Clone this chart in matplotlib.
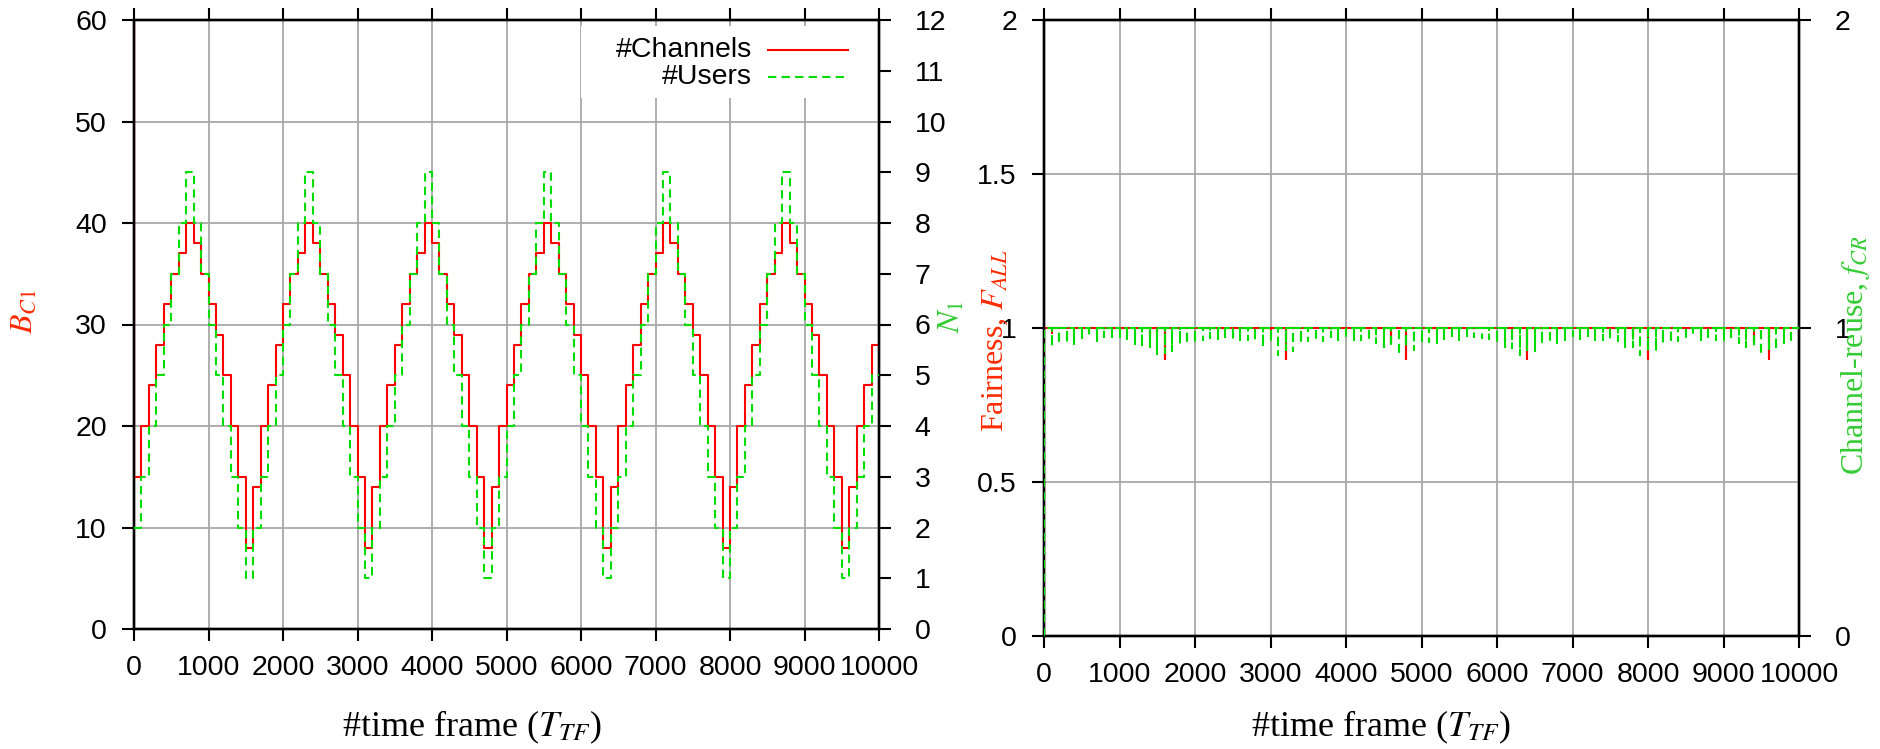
import matplotlib
matplotlib.use("Agg")
import matplotlib.pyplot as plt
import numpy as np
from matplotlib.patches import Rectangle

plt.rcParams['font.family'] = ['Liberation Sans', 'DejaVu Sans']
plt.rcParams['mathtext.fontset'] = 'stix'

# step edges of the load pattern (one step = 100 time frames)
step_edges = list(range(0, 10001, 100))

# allocated channels B_C1, one value per step
channels = [15, 20, 24, 28, 32, 35, 37, 40, 38, 35, 32, 29, 25, 20, 15, 8,
            14, 20, 24, 28, 32, 35, 37, 40, 38, 35, 32, 29, 25, 20, 15, 8,
            14, 20, 24, 28, 32, 35, 37, 40, 38, 35, 32, 29, 25, 20, 15, 8,
            14, 20, 24, 28, 32, 35, 37, 40, 38, 35, 32, 29, 25, 20, 15, 8,
            14, 20, 24, 28, 32, 35, 37, 40, 38, 35, 32, 29, 25, 20, 15, 8,
            14, 20, 24, 28, 32, 35, 37, 40, 38, 35, 32, 29, 25, 20, 15, 8,
            14, 20, 24, 28]
channels_t0 = [0, 64]

# active users N_1, one value per step
users = [2, 3, 4, 5, 6, 7, 8, 9, 8, 7, 6, 5, 4, 3, 2, 1,
         2, 3, 4, 5, 6, 7, 8, 9, 8, 7, 6, 5, 4, 3, 2, 1,
         2, 3, 4, 5, 6, 7, 8, 9, 8, 7, 6, 5, 4, 3, 2, 1,
         2, 3, 4, 5, 6, 7, 8, 9, 8, 7, 6, 5, 4, 3, 2, 1,
         2, 3, 4, 5, 6, 7, 8, 9, 8, 7, 6, 5, 4, 3, 2, 1,
         2, 3, 4, 5, 6, 7, 8, 9, 8, 7, 6, 5, 4, 3, 2, 1,
         2, 3, 4, 5]

# fairness / channel-reuse: value 1 everywhere except a one-frame dip at each step change
dip_frames = list(range(100, 10000, 100))
fairness_dips = [0.985, 1, 1, 1, 1, 1, 1, 1, 1, 1, 1, 1, 1, 0.97, 0.985, 0.90,
                 1, 1, 1, 1, 1, 1, 1, 1, 1, 1, 1, 1, 1, 0.985, 1, 0.90,
                 1, 1, 1, 1, 1, 1, 1, 1, 1, 1, 1, 1, 1, 0.951, 1, 0.90,
                 1, 1, 1, 1, 1, 1, 1, 1, 1, 1, 1, 1, 1, 0.985, 1, 0.90,
                 1, 1, 1, 1, 1, 1, 1, 1, 1, 1, 1, 1, 1, 0.97, 1, 0.90,
                 1, 1, 1, 1, 1, 1, 1, 1, 1, 1, 1, 1, 1, 0.951, 1, 0.90,
                 1, 1, 1]
reuse_dips = [0.937, 0.948, 0.951, 0.948, 0.968, 0.973, 0.959, 0.971, 0.971, 0.971, 0.965, 0.948, 0.937, 0.937, 0.913, 0.919,
              0.924, 0.948, 0.948, 0.951, 0.962, 0.968, 0.964, 0.971, 0.962, 0.960, 0.960, 0.957, 0.938, 0.954, 0.911, 0.927,
              0.926, 0.951, 0.959, 0.959, 0.959, 0.971, 0.962, 0.964, 0.962, 0.962, 0.959, 0.951, 0.938, 0.938, 0.913, 0.938,
              0.927, 0.951, 0.953, 0.951, 0.965, 0.973, 0.962, 0.973, 0.970, 0.968, 0.965, 0.951, 0.938, 0.935, 0.911, 0.927,
              0.924, 0.949, 0.951, 0.951, 0.962, 0.973, 0.964, 0.973, 0.962, 0.960, 0.960, 0.957, 0.938, 0.938, 0.911, 0.926,
              0.926, 0.951, 0.951, 0.957, 0.960, 0.982, 0.960, 0.960, 0.962, 0.960, 0.960, 0.951, 0.938, 0.938, 0.913, 0.927,
              0.927, 0.951, 0.951]

RED = '#ff0000'
GREEN = '#00dd00'
LBL_RED = '#ff2a00'
LBL_GREEN = '#33cc33'
GRID = '#a8a8a8'
TICK_FS = 20.5


def spike_line(frames, dips, start=0.0):
    xs, ys = [0, 0], [start, 1.0]
    for f, d in zip(frames, dips):
        xs += [f, f, f]
        ys += [1.0, d, 1.0]
    xs.append(10000)
    ys.append(1.0)
    return xs, ys


def style_axes(ax, ax_r):
    for a in (ax, ax_r):
        for s in a.spines.values():
            s.set_linewidth(1.7)
            s.set_color('black')
    ax.tick_params(axis='x', which='both', direction='out', top=True, length=8.5, width=1.5,
                   labelsize=TICK_FS, pad=10)
    ax.tick_params(axis='y', direction='out', length=8.5, width=1.5, labelsize=TICK_FS, pad=11)
    ax_r.tick_params(axis='y', direction='out', length=8.5, width=1.5, labelsize=TICK_FS, pad=17)
    for lab in ax_r.get_yticklabels():
        lab.set_horizontalalignment('left')
    ax.grid(True, color=GRID, lw=1.3)
    ax.set_axisbelow(True)
    ax.set_xlim(0, 10000)
    ax.set_xticks(range(0, 10001, 1000))


fig = plt.figure(figsize=(18.8, 7.49), dpi=100)
W, H = 1880, 749

# ---- left panel: channels and users ----
ax1 = fig.add_axes([134 / W, 1 - 629 / H, (879 - 134) / W, (629 - 20) / H])
ax1r = ax1.twinx()

x_ch = [0, 0] + step_edges
y_ch = channels_t0 + channels + [channels[-1]]
ax1.plot(x_ch, y_ch, drawstyle='steps-post', color=RED, lw=1.5, zorder=3)
ax1r.plot(step_edges, users + [users[-1]], drawstyle='steps-post', color=GREEN, lw=1.5,
          dashes=(4, 2.5), zorder=3)

ax1.set_ylim(0, 60)
ax1.set_yticks(range(0, 61, 10))
ax1r.set_ylim(0, 12)
ax1r.set_yticks(range(0, 13))
style_axes(ax1, ax1r)

# key box in the upper right corner
ax1r.add_patch(Rectangle((0.60, 0.872), 0.39, 0.118, transform=ax1r.transAxes,
                         facecolor='white', edgecolor='none', zorder=5))
ax1r.text(0.830, 0.950, '#Channels', transform=ax1r.transAxes, ha='right', va='center',
          fontsize=TICK_FS, zorder=6)
ax1r.text(0.830, 0.906, '#Users', transform=ax1r.transAxes, ha='right', va='center',
          fontsize=TICK_FS, zorder=6)
ax1r.plot([0.851, 0.958], [0.950, 0.950], transform=ax1r.transAxes, color=RED, lw=1.5, zorder=6)
ax1r.plot([0.851, 0.958], [0.906, 0.906], transform=ax1r.transAxes, color=GREEN, lw=1.5,
          dashes=(4, 2.5), zorder=6)

# ---- right panel: fairness and channel reuse ----
ax2 = fig.add_axes([1044 / W, 1 - 636 / H, (1799 - 1044) / W, (636 - 20) / H])
ax2r = ax2.twinx()

xf, yf = spike_line(dip_frames, fairness_dips)
xr, yr = spike_line(dip_frames, reuse_dips)
ax2.plot(xf, yf, color=RED, lw=1.5, zorder=3)
ax2r.plot(xr, yr, color=GREEN, lw=1.5, dashes=(4, 2.5), zorder=3)

ax2.set_ylim(0, 2)
ax2.set_yticks([0, 0.5, 1, 1.5, 2])
ax2.set_yticklabels(['0', '0.5', '1', '1.5', '2'])
ax2r.set_ylim(0, 2)
ax2r.set_yticks([0, 1, 2])
style_axes(ax2, ax2r)

# ---- axis titles ----
serif = ['Liberation Serif', 'DejaVu Serif']
fig.text(24 / W, 1 - 311 / H, r'$B_{C\mathit{1}}$', color=LBL_RED, rotation=90,
         ha='center', va='center', fontsize=23, family=serif)
fig.text(952 / W, 1 - 317 / H, r'$N_{\mathit{1}}$', color=LBL_GREEN, rotation=90,
         ha='center', va='center', fontsize=23, family=serif)
fig.text(995 / W, 1 - 341 / H, r'Fairness, $F_{ALL}$', color=LBL_RED, rotation=90,
         ha='center', va='center', fontsize=23, family=serif)
fig.text(1856 / W, 1 - 355 / H, r'Channel-reuse, $f_{CR}$', color=LBL_GREEN, rotation=90,
         ha='center', va='center', fontsize=23, family=serif)
fig.text(472 / W, 1 - 727 / H, r'#time frame ($T_{TF}$)', ha='center', va='center',
         fontsize=26, family=serif)
fig.text(1381 / W, 1 - 727 / H, r'#time frame ($T_{TF}$)', ha='center', va='center',
         fontsize=26, family=serif)

fig.savefig('out.png', dpi=100)
